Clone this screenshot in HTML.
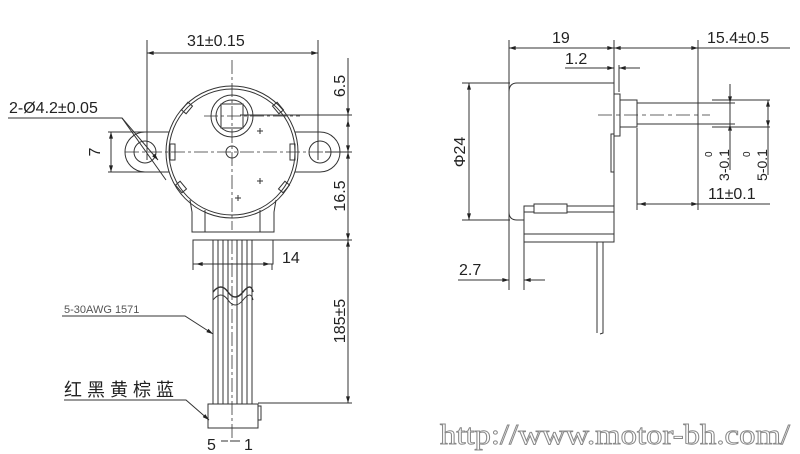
<!DOCTYPE html>
<html><head><meta charset="utf-8"><style>
html,body{margin:0;padding:0;background:#fff;}
svg{display:block}
text{font-family:"Liberation Sans","Noto Sans CJK SC",sans-serif;fill:#222}
</style></head><body>
<svg width="800" height="454" viewBox="0 0 800 454" xmlns="http://www.w3.org/2000/svg">
<defs>
<marker id="a" viewBox="0 0 10 6" refX="10" refY="3" markerWidth="8" markerHeight="4" orient="auto-start-reverse"><path d="M0,0L10,3L0,6z" fill="#222"/></marker>
</defs>
<g stroke="#333" stroke-width="1" fill="none">
<path d="M145,132 L180,132 M145,172 L180,172 M320,132 L285,132 M320,172 L285,172"/>
<path d="M145,132 A20,20 0 0 0 145,172"/>
<path d="M320,132 A20,20 0 0 1 320,172"/>
<circle cx="145" cy="152" r="11"/><circle cx="320" cy="152" r="11"/>
<circle cx="232" cy="152" r="66" fill="#fff"/>
<circle cx="232" cy="152" r="63"/>
<circle cx="232" cy="116" r="21"/><circle cx="232" cy="116" r="16"/>
<rect x="221" y="104" width="22" height="24"/>
<circle cx="232" cy="152" r="6"/>
<rect x="170" y="144" width="5" height="16"/><rect x="290" y="144" width="5" height="16"/>
<rect x="184" y="103" width="6" height="10" transform="rotate(40 187 108)"/>
<rect x="275" y="103" width="6" height="10" transform="rotate(-40 278 108)"/>
<rect x="178" y="182" width="6" height="10" transform="rotate(-40 181 187)"/>
<rect x="281" y="182" width="6" height="10" transform="rotate(40 284 187)"/>
<path d="M190,200 L192,212 L192,232 L274,232 L274,212 L276,200"/>
<path d="M205,210 L205,232 M260,210 L260,232"/>
<rect x="193" y="240" width="80" height="24" fill="#fff"/>
<path d="M213,240 V408 M218,240 V408 M223,240 V408 M228,240 V408 M237,240 V408 M242,240 V408 M247,240 V408 M252,240 V408"/>
<path d="M213,292 q8,-10 15,0 t15,0 t10,0" stroke-width="1.5"/>
<path d="M213,300 q8,-10 15,0 t15,0 t10,0" />
<rect x="208" y="404" width="50" height="24" fill="#fff"/>
<rect x="258" y="406" width="3" height="14"/>
<path d="M125,152 H340 M232,60 V230 M204,116 H300 M232,240 V440" stroke-dasharray="14,3,3,3" stroke-width="0.8"/>
<path d="M257,131h6M260,128v6M257,181h6M260,178v6M235,198h6M238,195v6" />
<path d="M147,40 V160 M318,40 V160"/>
<path d="M147,53 H318" marker-start="url(#a)" marker-end="url(#a)"/>
<path d="M240,115 H352 M325,152 H352 M270,240 H352 M258,403 H352"/>
<path d="M348,58 V115 M348,115 V152 M348,152 V240 M348,240 V403"/>
<path d="M348,95 V115" marker-end="url(#a)"/>
<path d="M348,120 V152" marker-start="url(#a)" marker-end="url(#a)"/>
<path d="M348,152 V240" marker-start="url(#a)" marker-end="url(#a)"/>
<path d="M348,240 V403" marker-start="url(#a)" marker-end="url(#a)"/>
<path d="M108,132 H148 M108,172 H148"/>
<path d="M111,132 V172" marker-start="url(#a)" marker-end="url(#a)"/>
<path d="M193,264 V270 M272,264 V270"/>
<path d="M196,264 H270" marker-start="url(#a)" marker-end="url(#a)"/>
<path d="M8,118 H122 L166,180" />
<path d="M122,118 L158,160" marker-end="url(#a)"/>
<path d="M62,316 H185 L213,334" marker-end="url(#a)"/>
<path d="M64,400 H186 L209,420" marker-end="url(#a)"/>
<path d="M221,441 H228 M230,441 H240"/>

<path d="M517,83 H614 V220 M517,83 Q509,83 509,92 V212 Q509,220 517,220 H524"/>
<rect x="614" y="94" width="6" height="42" fill="#fff"/>
<rect x="611" y="134" width="3" height="38"/>
<path d="M620,100 H637 V103 H712 M620,127 H637 V124 H712 M637,103 V124"/>
<rect x="524" y="206" width="90" height="36"/>
<path d="M524,212 H614 M524,234 H614"/>
<rect x="534" y="204" width="33" height="9" fill="#fff"/>
<path d="M597,242 V333 M603,242 V333 L600,334"/>
<path d="M598,115 H710" stroke-dasharray="14,4,4,4" stroke-width="0.8"/>
<path d="M509,40 V290 M614,40 V88 M619,65 V92 M698,40 V210 M524,242 V290 M637,128 V210"/>
<path d="M509,48 H614" marker-start="url(#a)" marker-end="url(#a)"/>
<path d="M614,48 H698 H790" marker-start="url(#a)"/>
<path d="M614,48 H698" marker-end="url(#a)"/>
<path d="M565,68 H605 M605,68 H614" marker-end="url(#a)"/>
<path d="M640,68 H619" marker-end="url(#a)"/>
<path d="M462,83 H510 M462,220 H510"/>
<path d="M469,83 V220" marker-start="url(#a)" marker-end="url(#a)"/>
<path d="M637,204 H698 H770" />
<path d="M639,204 H698" marker-start="url(#a)" marker-end="url(#a)"/>
<path d="M458,280 H509 M530,280 H545"/>
<path d="M495,280 H509" marker-end="url(#a)"/>
<path d="M540,280 H524" marker-end="url(#a)"/>
<path d="M712,103 H735 M712,124 H735 M712,100 H770 M712,127 H770"/>
<path d="M730,84 V103" marker-end="url(#a)"/>
<path d="M730,145 V124" marker-end="url(#a)"/>
<path d="M730,103 V170"/>
<path d="M768,100 V127" marker-start="url(#a)" marker-end="url(#a)"/>
<path d="M768,127 V175"/>
</g>
<g font-size="16">
<text x="187" y="46">31±0.15</text>
<text x="9" y="113">2-Ø4.2±0.05</text>
<text transform="translate(100,152) rotate(-90)" text-anchor="middle">7</text>
<text transform="translate(345,86) rotate(-90)" text-anchor="middle">6.5</text>
<text transform="translate(345,196) rotate(-90)" text-anchor="middle">16.5</text>
<text transform="translate(345,321) rotate(-90)" text-anchor="middle">185±5</text>
<text x="282" y="263">14</text>
<text x="552" y="43">19</text>
<text x="565" y="64">1.2</text>
<text x="707" y="43">15.4±0.5</text>
<text x="708" y="199">11±0.1</text>
<text x="459" y="275">2.7</text>
<text transform="translate(465,152) rotate(-90)" text-anchor="middle">Φ24</text>
<text transform="translate(729,165) rotate(-90)" text-anchor="middle" font-size="14">3-0.1</text>
<text transform="translate(767,165) rotate(-90)" text-anchor="middle" font-size="14">5-0.1</text>
<text transform="translate(712,157) rotate(-90)" font-size="10">0</text>
<text transform="translate(750,157) rotate(-90)" font-size="10">0</text>
<text x="207" y="450">5</text><text x="244" y="450">1</text>
</g>
<text x="64" y="313" font-size="11" style="fill:#555">5-30AWG 1571</text>
<text x="64" y="396" font-size="18" letter-spacing="5">红黑黄棕蓝</text>
<text x="440" y="444" font-size="28" textLength="350" lengthAdjust="spacingAndGlyphs" style="font-family:'Liberation Serif',serif;fill:#fff;stroke:#888;stroke-width:0.9">http://www.motor-bh.com/</text>
</svg>
</body></html>
